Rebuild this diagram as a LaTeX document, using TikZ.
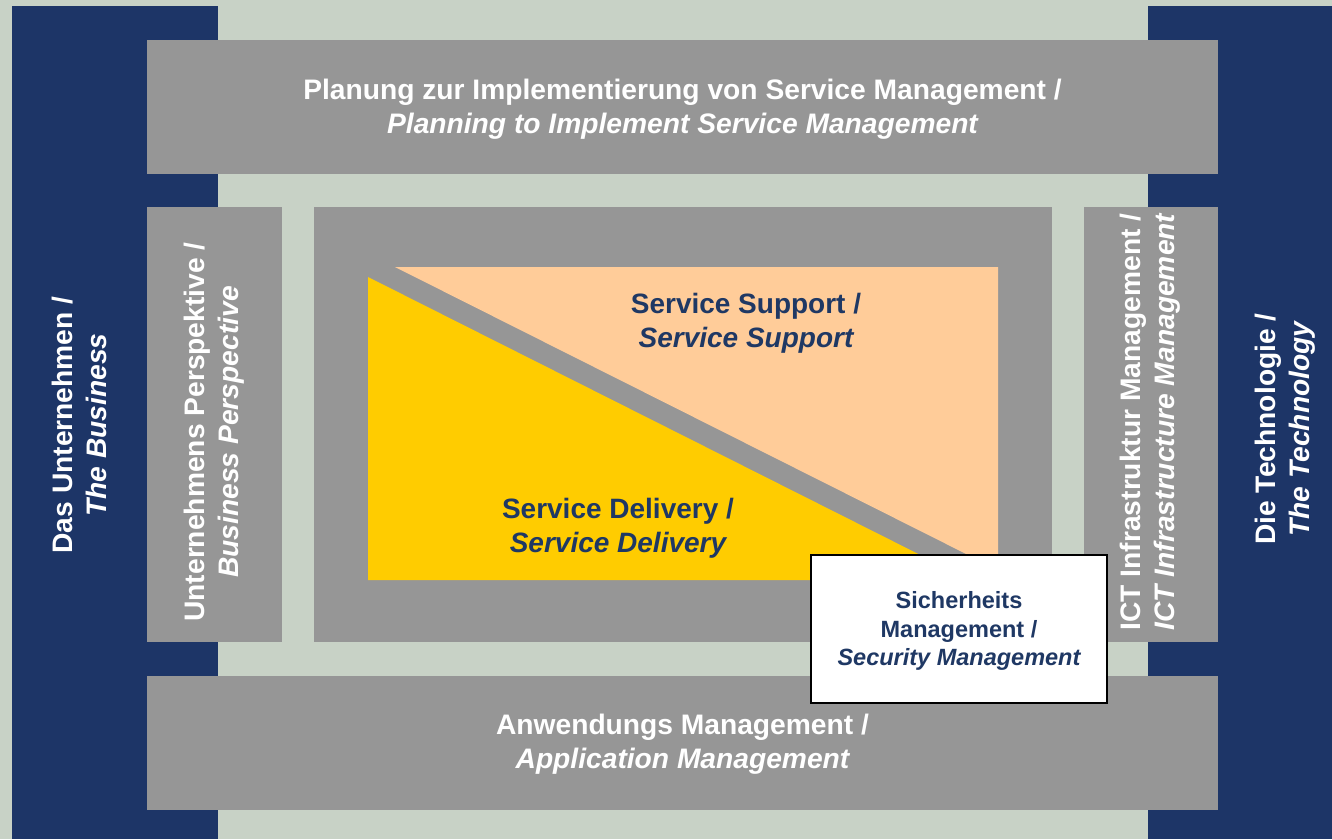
\documentclass[tikz,border=0pt]{standalone}
\usepackage{fontspec}
\setmainfont{Liberation Sans}
\definecolor{bgc}{HTML}{C8D2C6}
\definecolor{navy}{HTML}{1D3567}
\definecolor{grayb}{HTML}{969696}
\definecolor{peach}{HTML}{FFCC99}
\definecolor{yell}{HTML}{FFCC00}
\definecolor{txtnavy}{HTML}{1F3864}
\begin{document}
\begin{tikzpicture}[x=1pt,y=-1pt,
  box/.style={rectangle,inner sep=0pt,fill=grayb,draw=none},
  wtext/.style={text=white,align=center,font=\fontsize{28.2}{34}\selectfont\bfseries},
  ntext/.style={text=txtnavy,align=center,font=\fontsize{28}{34}\selectfont\bfseries},
  stext/.style={text=txtnavy,align=center,font=\fontsize{23.5}{28.5}\selectfont\bfseries}]
\useasboundingbox (0,0) rectangle (1332,839);
\fill[bgc] (0,0) rectangle (1332,839);
% navy columns
\node[box,fill=navy,minimum width=206pt,minimum height=833pt] (navyL) at (115,422.5) {};
\node[box,fill=navy,minimum width=184pt,minimum height=833pt] (navyR) at (1240,422.5) {};
% gray boxes
\node[box,minimum width=1071pt,minimum height=134pt] (plan) at (682.5,107) {};
\node[box,minimum width=1071pt,minimum height=134pt] (app) at (682.5,743) {};
\node[box,minimum width=135pt,minimum height=435pt] (bp) at (214.5,424.5) {};
\node[box,minimum width=738pt,minimum height=435pt] (core) at (683,424.5) {};
\node[box,minimum width=134pt,minimum height=435pt] (ict) at (1151,424.5) {};
% triangles
\fill[peach] (395,267) -- (998,267) -- (998,570) -- cycle;
\fill[yell] (368,277) -- (368,580) -- (970,580) -- cycle;
% texts
\node[wtext] (plant) at (682.5,109) {Planung zur Implementierung von Service Management /\\ \itshape Planning to Implement Service Management};
\node[wtext] (appt) at (682.5,744) {Anwendungs Management /\\ \itshape Application Management};
\node[wtext,rotate=90] (navyLt) at (79,425) {Das Unternehmen /\\ \itshape The Business};
\node[wtext,rotate=90] (bpt) at (214,432) {Unternehmens Perspektive /\\ \itshape Business Perspective};
\node[wtext,rotate=90] (ictt) at (1150,422) {ICT Infrastruktur Management /\\ \itshape ICT Infrastructure Management};
\node[wtext,rotate=90] (navyRt) at (1285,429) {Die Technologie /\\ \itshape The Technology};
\node[ntext] (sst) at (746,323) {Service Support /\\ \itshape Service Support};
\node[ntext] (sdt) at (618,528) {Service Delivery /\\ \itshape Service Delivery};
% security box
\node[rectangle,draw=black,line width=1.5pt,fill=white,minimum width=296pt,minimum height=148pt,inner sep=0pt] (sec) at (959,629) {};
\node[stext] (sect) at (959,631) {Sicherheits\\ Management /\\ \itshape Security Management};
\end{tikzpicture}
\end{document}
